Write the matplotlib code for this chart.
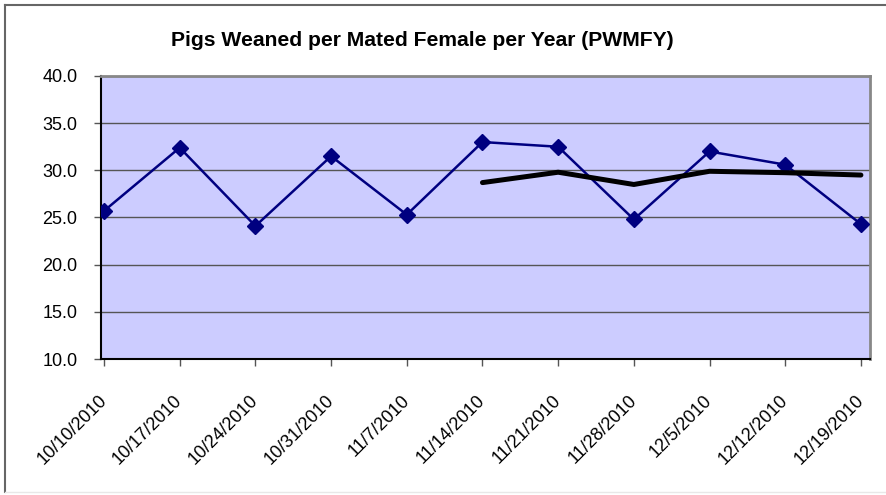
import matplotlib
matplotlib.use("Agg")
import matplotlib.pyplot as plt
from matplotlib.lines import Line2D
import numpy as np

plt.rcParams["font.family"] = ["Liberation Sans", "DejaVu Sans"]

# chart data
dates = ["10/10/2010", "10/17/2010", "10/24/2010", "10/31/2010", "11/7/2010",
         "11/14/2010", "11/21/2010", "11/28/2010", "12/5/2010", "12/12/2010",
         "12/19/2010"]
pwmfy = [25.7, 32.4, 24.1, 31.5, 25.3, 33.0, 32.5, 24.8, 32.0, 30.6, 24.3]
# rolling average, starts at 11/14/2010
avg_start = 5
pwmfy_avg = [28.7, 29.8, 28.5, 29.9, 29.75, 29.5]

fig = plt.figure(figsize=(8.86, 4.95), dpi=100)
ax = fig.add_axes([101 / 886, 1 - 359 / 495, 769 / 886, 283 / 495])
ax.set_facecolor("#CCCCFF")

x = np.arange(len(dates))
ax.plot(x, pwmfy, color="#000080", linewidth=1.8, marker="D",
        markersize=8.5, markerfacecolor="#000080", markeredgecolor="#000080",
        zorder=3)
ax.plot(x[avg_start:], pwmfy_avg, color="black", linewidth=3.6,
        solid_capstyle="round", solid_joinstyle="round", zorder=4)

ax.set_ylim(10, 40)
ax.set_yticks(np.arange(10, 41, 5))
ax.set_yticklabels([f"{v:.1f}" for v in np.arange(10, 41, 5)], fontsize=13)
ax.set_xlim(-0.04, 10.12)
ax.set_xticks(x)
ax.set_xticklabels(dates, rotation=45, ha="right", va="center",
                   rotation_mode="anchor", fontsize=13)
ax.tick_params(axis="both", direction="out", length=5, width=1,
               color="#555555")
ax.tick_params(axis="y", pad=12)
ax.tick_params(axis="x", pad=23)
ax.grid(True, axis="y", color="#555555", linewidth=1)
ax.set_axisbelow(True)

for side in ["top", "right"]:
    ax.spines[side].set_color("#888888")
    ax.spines[side].set_linewidth(2)
for side in ["left", "bottom"]:
    ax.spines[side].set_color("black")
    ax.spines[side].set_linewidth(1.5)

fig.text(422 / 886, 1 - 41 / 495,
         "Pigs Weaned per Mated Female per Year (PWMFY)",
         ha="center", va="center", fontsize=15.2, fontweight="bold")

# outer chart border
fig.add_artist(Line2D([5 / 886, 1], [1 - 5 / 495, 1 - 5 / 495],
                      transform=fig.transFigure, color="#666666", linewidth=1.5))
fig.add_artist(Line2D([5 / 886, 5 / 886], [1 - 5 / 495, 1 - 492 / 495],
                      transform=fig.transFigure, color="#666666", linewidth=1.5))
fig.add_artist(Line2D([5 / 886, 1], [1 - 492 / 495, 1 - 492 / 495],
                      transform=fig.transFigure, color="#e8e8e8", linewidth=1))

fig.savefig("out.png", dpi=100)
